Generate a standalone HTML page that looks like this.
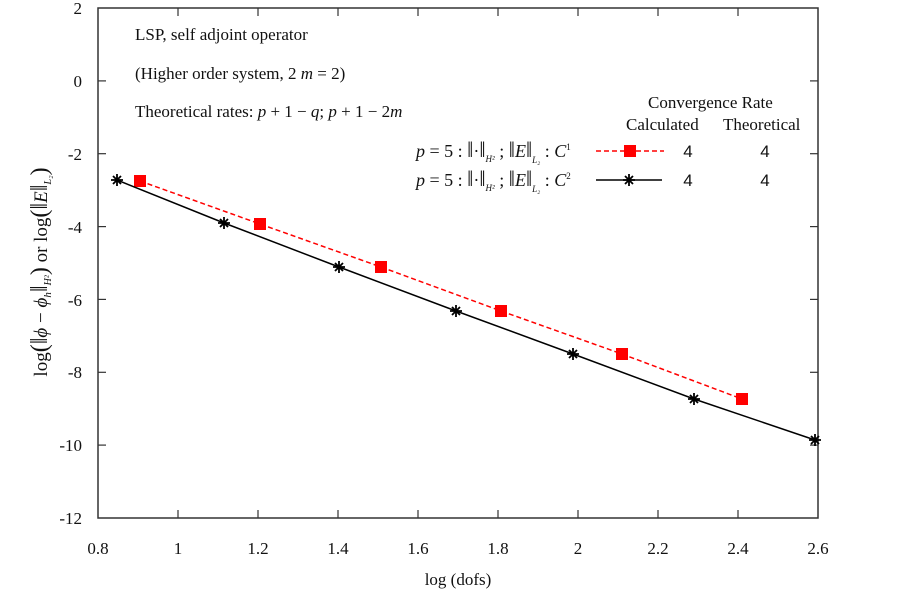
<!DOCTYPE html>
<html><head><meta charset="utf-8"><style>
body{margin:0;background:#fff}
svg text{font-family:"Liberation Serif",serif;fill:#111}
</style></head><body>
<svg width="903" height="594" viewBox="0 0 903 594" xmlns="http://www.w3.org/2000/svg">
<rect x="98" y="8" width="720" height="510" fill="none" stroke="#333" stroke-width="1.5"/>
<g stroke="#333" stroke-width="1.2">
<line x1="98" y1="80.9" x2="106" y2="80.9"/><line x1="810" y1="80.9" x2="818" y2="80.9"/>
<line x1="98" y1="153.7" x2="106" y2="153.7"/><line x1="810" y1="153.7" x2="818" y2="153.7"/>
<line x1="98" y1="226.6" x2="106" y2="226.6"/><line x1="810" y1="226.6" x2="818" y2="226.6"/>
<line x1="98" y1="299.4" x2="106" y2="299.4"/><line x1="810" y1="299.4" x2="818" y2="299.4"/>
<line x1="98" y1="372.3" x2="106" y2="372.3"/><line x1="810" y1="372.3" x2="818" y2="372.3"/>
<line x1="98" y1="445.1" x2="106" y2="445.1"/><line x1="810" y1="445.1" x2="818" y2="445.1"/>
<line x1="178" y1="518" x2="178" y2="510"/><line x1="178" y1="8" x2="178" y2="16"/>
<line x1="258" y1="518" x2="258" y2="510"/><line x1="258" y1="8" x2="258" y2="16"/>
<line x1="338" y1="518" x2="338" y2="510"/><line x1="338" y1="8" x2="338" y2="16"/>
<line x1="418" y1="518" x2="418" y2="510"/><line x1="418" y1="8" x2="418" y2="16"/>
<line x1="498" y1="518" x2="498" y2="510"/><line x1="498" y1="8" x2="498" y2="16"/>
<line x1="578" y1="518" x2="578" y2="510"/><line x1="578" y1="8" x2="578" y2="16"/>
<line x1="658" y1="518" x2="658" y2="510"/><line x1="658" y1="8" x2="658" y2="16"/>
<line x1="738" y1="518" x2="738" y2="510"/><line x1="738" y1="8" x2="738" y2="16"/>
</g>
<g font-size="17" text-anchor="end">
<text x="82" y="14">2</text><text x="82" y="87">0</text><text x="82" y="160">-2</text>
<text x="82" y="233">-4</text><text x="82" y="306">-6</text><text x="82" y="378">-8</text>
<text x="82" y="451">-10</text><text x="82" y="524">-12</text>
</g>
<g font-size="17" text-anchor="middle">
<text x="98" y="554">0.8</text><text x="178" y="554">1</text><text x="258" y="554">1.2</text>
<text x="338" y="554">1.4</text><text x="418" y="554">1.6</text><text x="498" y="554">1.8</text>
<text x="578" y="554">2</text><text x="658" y="554">2.2</text><text x="738" y="554">2.4</text>
<text x="818" y="554">2.6</text>
<text x="458" y="585">log (dofs)</text>
</g>
<text transform="translate(47,272) rotate(-90)" font-size="19" text-anchor="middle">log<tspan font-size="24">(‖</tspan><tspan font-style="italic">ϕ</tspan> − <tspan font-style="italic">ϕ<tspan font-size="11" dy="4">h</tspan></tspan><tspan dy="-4" font-size="24">‖</tspan><tspan font-size="10" dy="4" font-style="italic">H²</tspan><tspan dy="-4" font-size="24">)</tspan>  or  log<tspan font-size="24">(‖</tspan><tspan font-style="italic">E</tspan><tspan font-size="24">‖</tspan><tspan font-size="10" dy="4" font-style="italic">L₂</tspan><tspan dy="-4" font-size="24">)</tspan></text>
<g font-size="17">
<text x="135" y="40">LSP, self adjoint operator</text>
<text x="135" y="79">(Higher order system, 2 <tspan font-style="italic">m</tspan> = 2)</text>
<text x="135" y="117">Theoretical rates: <tspan font-style="italic">p</tspan> + 1 − <tspan font-style="italic">q</tspan>; <tspan font-style="italic">p</tspan> + 1 − 2<tspan font-style="italic">m</tspan></text>
<text x="648" y="108">Convergence Rate</text>
<text x="626" y="130">Calculated</text><text x="723" y="130">Theoretical</text>
</g>
<g font-size="18">
<text x="416" y="157"><tspan font-style="italic">p</tspan> = 5 : <tspan font-size="22">‖</tspan>·<tspan font-size="22">‖</tspan><tspan font-size="9" dy="5" font-style="italic">H²</tspan><tspan dy="-5"> ; </tspan><tspan font-size="22">‖</tspan><tspan font-style="italic">E</tspan><tspan font-size="22">‖</tspan><tspan font-size="9" dy="6" font-style="italic">L₂</tspan><tspan dy="-6"> : </tspan><tspan font-style="italic">C</tspan><tspan font-size="9" dy="-7">1</tspan></text>
<text x="416" y="186"><tspan font-style="italic">p</tspan> = 5 : <tspan font-size="22">‖</tspan>·<tspan font-size="22">‖</tspan><tspan font-size="9" dy="5" font-style="italic">H²</tspan><tspan dy="-5"> ; </tspan><tspan font-size="22">‖</tspan><tspan font-style="italic">E</tspan><tspan font-size="22">‖</tspan><tspan font-size="9" dy="6" font-style="italic">L₂</tspan><tspan dy="-6"> : </tspan><tspan font-style="italic">C</tspan><tspan font-size="9" dy="-7">2</tspan></text>
</g>
<g font-size="17" text-anchor="middle">
<text x="688" y="157" style="font-family:'Liberation Sans',sans-serif">4</text><text x="765" y="157" style="font-family:'Liberation Sans',sans-serif">4</text>
<text x="688" y="186" style="font-family:'Liberation Sans',sans-serif">4</text><text x="765" y="186" style="font-family:'Liberation Sans',sans-serif">4</text>
</g>
<line x1="596" y1="151" x2="664" y2="151" stroke="#f00" stroke-width="1.5" stroke-dasharray="5,3"/>
<rect x="624" y="145" width="12" height="12" fill="#f00"/>
<line x1="596" y1="180" x2="662" y2="180" stroke="#000" stroke-width="1.5"/>
<polyline points="140,181 260,224 381,267 501,311 622,354 742,399" fill="none" stroke="#f00" stroke-width="1.5" stroke-dasharray="5,3"/>
<g fill="#f00">
<rect x="134" y="175" width="12" height="12"/><rect x="254" y="218" width="12" height="12"/>
<rect x="375" y="261" width="12" height="12"/><rect x="495" y="305" width="12" height="12"/>
<rect x="616" y="348" width="12" height="12"/><rect x="736" y="393" width="12" height="12"/>
</g>
<polyline points="117,180 224,223 339,267 456,311 573,354 694,399 815,440" fill="none" stroke="#000" stroke-width="1.5"/>
<g stroke="#000" stroke-width="1.8">
<path d="M111,180h12M117,174v12M113,176l8,8M121,176l-8,8"/>
<path d="M218,223h12M224,217v12M220,219l8,8M228,219l-8,8"/>
<path d="M333,267h12M339,261v12M335,263l8,8M343,263l-8,8"/>
<path d="M450,311h12M456,305v12M452,307l8,8M460,307l-8,8"/>
<path d="M567,354h12M573,348v12M569,350l8,8M577,350l-8,8"/>
<path d="M688,399h12M694,393v12M690,395l8,8M698,395l-8,8"/>
<path d="M809,440h12M815,434v12M811,436l8,8M819,436l-8,8"/>
<path d="M623,180h12M629,174v12M625,176l8,8M633,176l-8,8"/>
</g>
</svg>
</body></html>
